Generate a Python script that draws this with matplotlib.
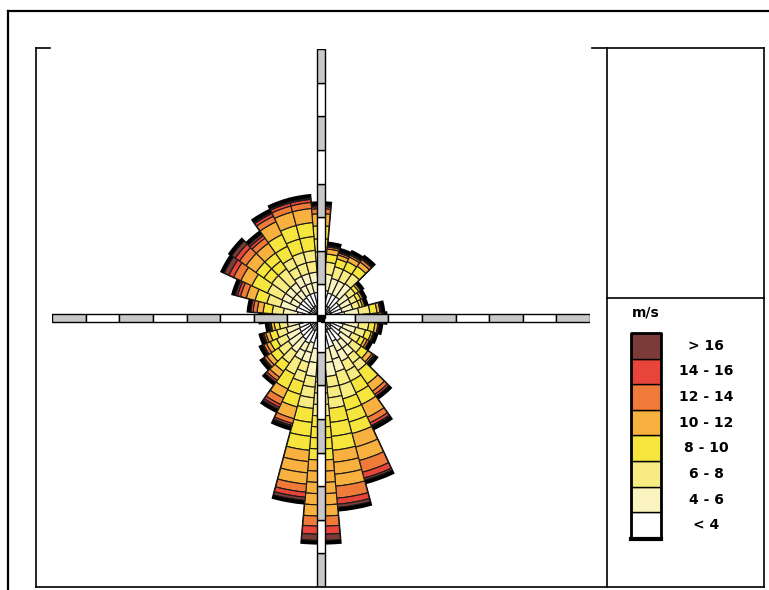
import matplotlib.pyplot as plt
import numpy as np
from matplotlib.lines import Line2D

# wind directions (deg, clockwise from north), 10 deg sectors
directions = list(range(0, 360, 10))

speed_labels = ['< 4', '4 - 6', '6 - 8', '8 - 10', '10 - 12', '12 - 14', '14 - 16', '> 16']
speed_colors = ['#ffffff', '#fbf3c0', '#f8eb82', '#f6e53c', '#f8b03e', '#f07a38', '#e8443a', '#7b3b36']

# frequency (%) of each speed class for each direction (0, 10, ..., 350)
freq_lt4 = [.77, .83, .77, .77, .77, .65, .65, .65, .71, .71, .71, .68, .65, .71, .83, .77, .89, .92,
            .95, .92, .77, .83, .77, .74, .71, .68, .65, .68, .71, .77, .74, .74, .74, .77, .77, .77]
freq_4_6 = [.60, .48, .45, .45, .48, .36, .33, .33, .42, .42, .42, .39, .36, .42, .54, .65, .77, .83,
            .95, .83, .60, .54, .48, .45, .42, .39, .36, .39, .42, .48, .54, .54, .54, .60, .60, .60]
freq_6_8 = [.60, .36, .36, .36, .36, .24, .21, .21, .33, .33, .30, .30, .27, .33, .54, .65, .83, .95,
            1.01, .95, .60, .48, .39, .36, .33, .30, .24, .27, .33, .42, .48, .51, .51, .60, .65, .65]
freq_8_10 = [.77, .24, .24, .27, .27, .12, .12, .09, .21, .24, .18, .18, .15, .24, .48, .77, 1.07, 1.25,
             1.31, 1.25, .77, .48, .30, .27, .21, .21, .15, .18, .27, .36, .51, .57, .57, .77, .83, .83]
freq_10_12 = [.36, .15, .12, .15, .15, .06, .06, .06, .09, .12, .09, .06, .09, .15, .27, .42, .83, 1.07,
              1.67, 1.01, .36, .30, .21, .15, .12, .12, .09, .12, .18, .27, .36, .36, .36, .42, .42, .42]
freq_12_14 = [.15, .06, .06, .06, .09, 0, 0, 0, .03, .03, .03, .03, .06, .06, .12, .18, .36, .36,
              .30, .24, .15, .21, .12, .09, .09, .06, .03, .06, .12, .18, .24, .24, .18, .18, .18, .18]
freq_14_16 = [.06, .03, .03, .03, .03, 0, 0, 0, 0, 0, 0, 0, 0, .03, .06, .09, .18, .18,
              .24, .15, .06, .09, .06, .03, .03, .03, .03, .03, .06, .09, .15, .15, .09, .09, .09, .09]
freq_gt16 = [.03, 0, 0, 0, 0, 0, 0, 0, 0, 0, 0, 0, 0, 0, 0, .03, .06, .09,
             .18, .09, .03, .06, 0, 0, 0, 0, 0, 0, 0, .06, .15, .12, .06, .03, .03, .03]

classes = [freq_lt4, freq_4_6, freq_6_8, freq_8_10, freq_10_12, freq_12_14, freq_14_16, freq_gt16]

W, H = 769, 590
fig = plt.figure(figsize=(W / 100, H / 100), dpi=100)

# rose (polar), radius 8 % fills the cross
pos = [52 / W, 3 / H, 538 / W, 538 / H]
ax = fig.add_axes(pos, projection='polar')
ax.set_theta_zero_location('N')
ax.set_theta_direction(-1)
ax.set_ylim(0, 8)
ax.axis('off')

width = np.deg2rad(10)
data = np.array(classes)
totals = data.sum(axis=0)
theta = np.deg2rad(directions)

# black outline / shadow of each sector
ax.bar(theta, totals + 0.1, width=width, bottom=0, color='black', edgecolor='black', lw=1.5, zorder=1)

cell = 0.36  # radial size of one brick
for i in range(len(directions)):
    base = 0.0
    for c, vals in enumerate(classes):
        v = vals[i]
        if v <= 0:
            continue
        n = max(1, int(round(v / cell)))
        for k in range(n):
            ax.bar(theta[i], v / n, width=width, bottom=base + k * v / n,
                   color=speed_colors[c], edgecolor='#1a1a1a', lw=0.8, zorder=2)
        base += v

# the cross scale (1 % per segment), white next to the centre
ax2 = fig.add_axes(pos)
ax2.set_xlim(-8, 8)
ax2.set_ylim(-8, 8)
ax2.axis('off')
for k in range(-8, 8):
    d = k if k >= 0 else -k - 1
    col = '#ffffff' if d % 2 == 0 else '#c8c8c8'
    ax2.barh(0, 1, left=k, height=0.24, color=col, edgecolor='black', lw=1, zorder=3)
    ax2.bar(0, 1, bottom=k, width=0.26, color=col, edgecolor='black', lw=1, zorder=3)
ax2.plot([0], [0], marker='s', color='black', ms=5, zorder=4)

# legend
lg = fig.add_axes([631 / W, 1 - 538 / H, 30 / W, 205 / H])
lg.set_xlim(0, 1)
lg.set_ylim(0, 8)
lg.axis('off')
for c in range(8):
    lg.bar(0.5, 1, bottom=c, width=1, color=speed_colors[c], edgecolor='black', lw=1)
    lg.text(2.5, c + 0.5, speed_labels[c], ha='center', va='center',
            fontsize=10, fontweight='bold', clip_on=False)
lg.plot([0, 1, 1, 0, 0], [0, 0, 8, 8, 0], color='black', lw=2, clip_on=False)
lg.plot([0, 1], [-0.05, -0.05], color='black', lw=3, clip_on=False)
lg.text(0.5, 8.8, 'm/s', ha='center', va='center', fontsize=10, fontweight='bold')


def line(x0, y0, x1, y1, lw=1.2):
    fig.add_artist(Line2D([x0 / W, x1 / W], [1 - y0 / H, 1 - y1 / H], color='black', lw=lw))


# outer frame
line(8, 11, 769, 11, 1.6)
line(8, 11, 8, 590, 1.6)
# plot frame
line(36, 48, 36, 587)
line(36, 48, 50, 48)
line(36, 587, 764, 587)
# right panel
line(592, 48, 764, 48)
line(607, 48, 607, 587)
line(764, 48, 764, 587)
line(607, 298, 764, 298)

fig.savefig('out.png', dpi=100)
